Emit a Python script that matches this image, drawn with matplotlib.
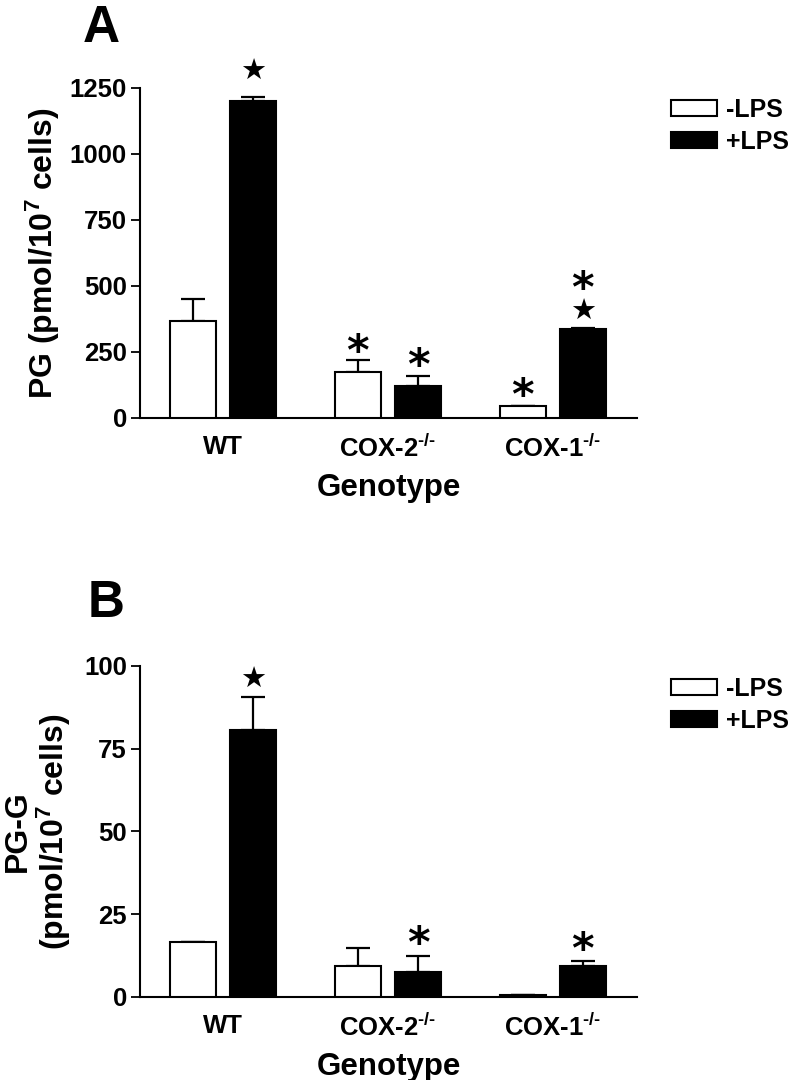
import matplotlib
matplotlib.use("Agg")
import matplotlib.pyplot as plt
import numpy as np

plt.rcParams['font.family'] = ['Liberation Sans', 'DejaVu Sans']
plt.rcParams['font.weight'] = 'bold'
plt.rcParams['mathtext.fontset'] = 'custom'
plt.rcParams['mathtext.rm'] = 'Liberation Sans:bold'
plt.rcParams['mathtext.it'] = 'Liberation Sans:bold'
plt.rcParams['mathtext.bf'] = 'Liberation Sans:bold'
plt.rcParams['mathtext.default'] = 'rm'

# data
genotypes = ['WT', 'COX-2$^{\u2010/\u2010}$', 'COX-1$^{\u2010/\u2010}$']
series = ['-LPS', '+LPS']

pg_minus = [367, 175, 47]
pg_minus_err = [84, 46, 0]
pg_plus = [1201, 122, 337]
pg_plus_err = [13, 38, 5]

pgg_minus = [16.5, 9.4, 0.6]
pgg_minus_err = [0, 5.4, 0]
pgg_plus = [80.7, 7.5, 9.3]
pgg_plus_err = [10, 4.8, 1.6]

# significance marks: (group index, series index, symbol, offset in px)
marks_a = [(0, 1, '★', 28), (1, 0, '*', 15), (1, 1, '*', 17), (2, 0, '*', 17),
           (2, 1, '★', 18), (2, 1, '*', 46)]
marks_b = [(0, 1, '★', 19), (1, 1, '*', 19), (2, 1, '*', 18)]

fig = plt.figure(figsize=(7.92, 10.8), dpi=100)
axA = fig.add_axes([0.1768, 0.6130, 0.6275, 0.3056])
axB = fig.add_axes([0.1768, 0.0769, 0.6275, 0.3065])

x = np.arange(len(genotypes))
width = 0.279
offset = 0.182


def draw(ax, minus, minus_err, plus, plus_err, ymax, ystep, marks, ylabel):
    vals = [minus, plus]
    errs = [minus_err, plus_err]
    colors = ['white', 'black']
    bars = []
    for i in range(2):
        xs = x + (2 * i - 1) * offset
        b = ax.bar(xs, vals[i], width, color=colors[i], edgecolor='black',
                   linewidth=1.5, zorder=3, label=series[i])
        bars.append(b)
        ax.errorbar(xs, vals[i], yerr=[np.zeros(len(x)), errs[i]], fmt='none',
                    ecolor='black', elinewidth=1.6, capsize=8.6, capthick=1.6,
                    zorder=2)
    for g, s, sym, off in marks:
        top = vals[s][g] + errs[s][g]
        xs = x[g] + (2 * s - 1) * offset
        if sym == '*':
            ax.annotate(sym, xy=(xs, top), xytext=(0, off * 0.72 - 14.5),
                        textcoords='offset points', ha='center', va='baseline',
                        fontsize=31, fontweight='bold', family='DejaVu Sans')
        else:
            ax.annotate(sym, xy=(xs, top), xytext=(0, off * 0.72 - 7.2),
                        textcoords='offset points', ha='center', va='baseline',
                        fontsize=21, family='DejaVu Sans')

    ax.set_xlim(-0.503, 2.51)
    ax.set_ylim(0, ymax)
    ax.set_yticks(np.arange(0, ymax + 1, ystep))
    ax.set_xticks(x)
    ax.set_xticklabels(genotypes)
    ax.tick_params(axis='x', length=0, pad=12, labelsize=18.5)
    ax.tick_params(axis='y', length=6.5, width=1.3, pad=3, labelsize=18.5)
    for sp in ['top', 'right']:
        ax.spines[sp].set_visible(False)
    for sp in ['left', 'bottom']:
        ax.spines[sp].set_linewidth(1.5)
    ax.set_xlabel('Genotype', fontsize=22.5, fontweight='bold', labelpad=8)
    ax.set_ylabel(ylabel, fontsize=23, fontweight='bold', linespacing=1.05)
    return bars


bars_a = draw(axA, pg_minus, pg_minus_err, pg_plus, pg_plus_err, 1250, 250,
              marks_a, 'PG (pmol/10$^{7}$ cells)')
axA.yaxis.set_label_coords(-0.157, 0.5)

bars_b = draw(axB, pgg_minus, pgg_minus_err, pgg_plus, pgg_plus_err, 100, 25,
              marks_b, 'PG-G\n(pmol/10$^{7}$ cells)')
axB.yaxis.set_label_coords(-0.135, 0.5)

for ax, bars, ytop in [(axA, bars_a, 1 - 98 / 1080), (axB, bars_b, 1 - 677 / 1080)]:
    fig.legend(handles=bars, labels=series, loc='upper left',
               bbox_to_anchor=(671 / 792, ytop), frameon=False, fontsize=18,
               handlelength=1.85, handleheight=0.62, handletextpad=0.35,
               labelspacing=0.32, borderaxespad=0, borderpad=0)

fig.text(83 / 792, 1 - 42 / 1080, 'A', fontsize=37, fontweight='bold',
         ha='left', va='baseline')
fig.text(88 / 792, 1 - 617 / 1080, 'B', fontsize=37, fontweight='bold',
         ha='left', va='baseline')

fig.savefig('out.png', dpi=100, facecolor='white')
